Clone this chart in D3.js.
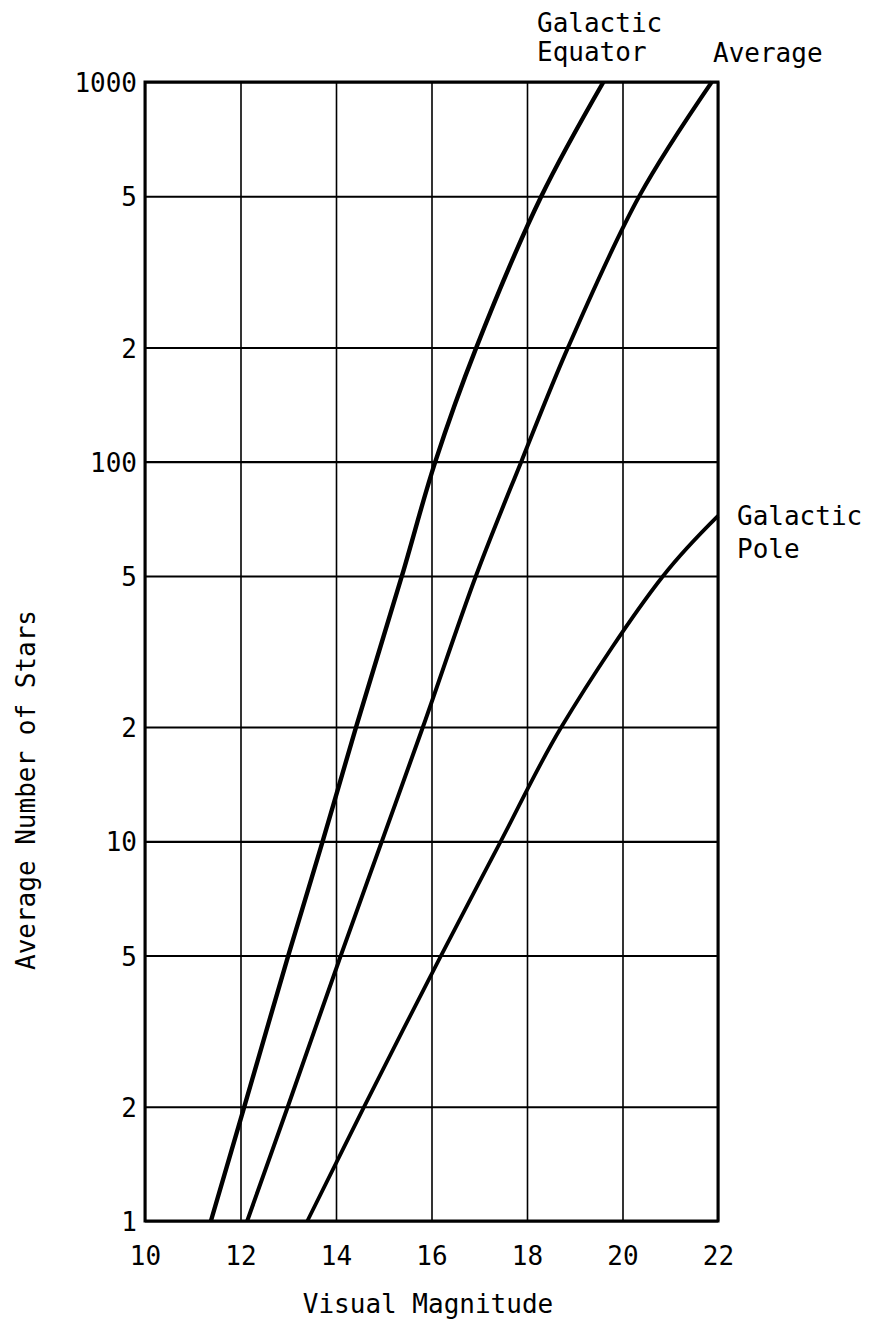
<!DOCTYPE html>
<html>
<head>
<meta charset="utf-8">
<script src="https://cdn.jsdelivr.net/npm/d3@7"></script>
<style>
  body { margin: 0; background: #fff; }
  svg text { font-family: "DejaVu Sans Mono", "Liberation Mono", monospace; fill: #000; }
</style>
</head>
<body>
<svg id="chart" width="869" height="1324"></svg>
<script>
// values
var magTicks = [10, 12, 14, 16, 18, 20, 22];
var starTicks = [1, 2, 5, 10, 20, 50, 100, 200, 500, 1000];
var starTickLabels = ["1", "2", "5", "10", "2", "5", "100", "2", "5", "1000"];

var equatorMag = [11.38, 12.08, 13.0, 13.72, 14.42, 15.38, 16.08, 16.94, 18.3, 19.6];
var equatorN   = [1, 2, 5, 10, 20, 50, 100, 200, 500, 1000];

var averageMag = [12.14, 12.99, 14.1, 14.96, 15.82, 16.93, 17.88, 18.86, 20.35, 21.87];
var averageN   = [1, 2, 5, 10, 20, 50, 100, 200, 500, 1000];

var poleMag = [13.4, 14.59, 16.2, 17.45, 18.72, 20.85, 22.0];
var poleN   = [1, 2, 5, 10, 20, 50, 72];

var svg = d3.select("#chart");

// plot frame in pixels
var margin = { top: 82, right: 151, bottom: 103, left: 145 };
var width = 869 - margin.left - margin.right;
var height = 1324 - margin.top - margin.bottom;

var x = d3.scaleLinear().domain([10, 22]).range([0, width]);
var y = d3.scaleLog().domain([1, 1000]).range([height, 0]);

var plot = svg.append("g")
  .attr("transform", "translate(" + margin.left + "," + margin.top + ")");

// vertical grid + x labels
var xAxis = d3.axisBottom(x)
  .tickValues(magTicks)
  .tickSize(-height)
  .tickPadding(0)
  .tickFormat(d3.format("d"));

var xGroup = plot.append("g")
  .attr("transform", "translate(0," + height + ")")
  .call(xAxis);
xGroup.select(".domain").remove();
xGroup.selectAll("line").attr("stroke", "#000").attr("stroke-width", 1.6);
xGroup.selectAll("text")
  .attr("y", 44)
  .attr("dy", 0)
  .style("font-size", "26px");

// horizontal grid + y labels
var yAxis = d3.axisLeft(y)
  .tickValues(starTicks)
  .tickSize(-width)
  .tickPadding(0)
  .tickFormat(function(d, i) { return starTickLabels[i]; });

var yGroup = plot.append("g").call(yAxis);
yGroup.select(".domain").remove();
yGroup.selectAll("line")
  .attr("stroke", "#000")
  .attr("stroke-width", function(d) { return (d === 10 || d === 100) ? 2.4 : 2; });
yGroup.selectAll("text")
  .attr("x", -8)
  .attr("dy", "0.37em")
  .style("font-size", "26px");

// frame
plot.append("rect")
  .attr("x", 0)
  .attr("y", 0)
  .attr("width", width)
  .attr("height", height)
  .attr("fill", "none")
  .attr("stroke", "#000")
  .attr("stroke-width", 3);

// curves
var line = d3.line()
  .x(function(d) { return x(d[0]); })
  .y(function(d) { return y(d[1]); })
  .curve(d3.curveCatmullRom.alpha(0.5));

var series = [
  { mag: equatorMag, n: equatorN, w: 4.4 },
  { mag: averageMag, n: averageN, w: 4 },
  { mag: poleMag, n: poleN, w: 3.8 }
];

series.forEach(function(s) {
  var pts = s.mag.map(function(m, i) { return [m, s.n[i]]; });
  plot.append("path")
    .datum(pts)
    .attr("d", line)
    .attr("fill", "none")
    .attr("stroke", "#000")
    .attr("stroke-width", s.w)
    .attr("stroke-linejoin", "round");
});

// curve labels
function label(lines, px, py, step) {
  var t = svg.append("text")
    .attr("x", px)
    .attr("y", py)
    .style("font-size", "26px");
  lines.forEach(function(s, i) {
    t.append("tspan").attr("x", px).attr("dy", i === 0 ? 0 : step).text(s);
  });
}
label(["Galactic", "Equator"], 537, 32, 29);
label(["Average"], 713, 62, 0);
label(["Galactic", "Pole"], 737, 525, 33);

// axis titles
svg.append("text")
  .text("Visual Magnitude")
  .attr("x", 428)
  .attr("y", 1313)
  .attr("text-anchor", "middle")
  .style("font-size", "26px");

svg.append("text")
  .text("Average Number of Stars")
  .attr("transform", "translate(35,790) rotate(-90)")
  .attr("text-anchor", "middle")
  .style("font-size", "26px");
</script>
</body>
</html>
